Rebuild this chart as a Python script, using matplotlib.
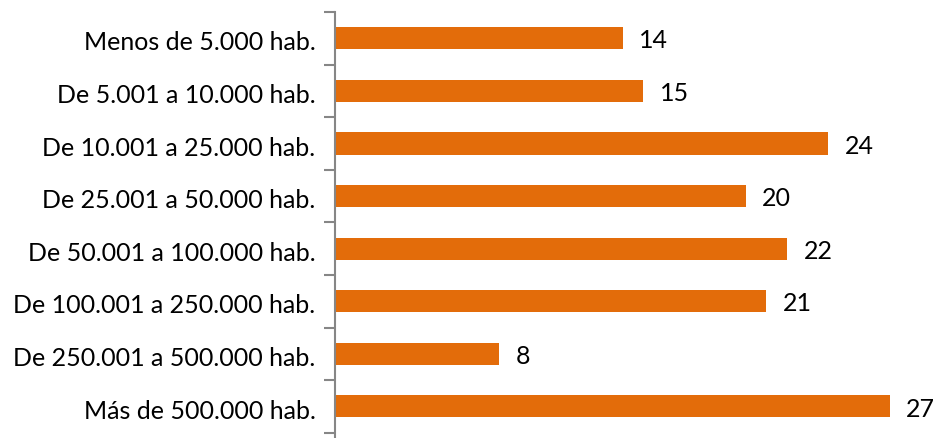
import matplotlib.pyplot as plt
import numpy as np

plt.rcParams['font.family'] = ['Lato', 'DejaVu Sans']

categorias = ["Menos de 5.000 hab.", "De 5.001 a 10.000 hab.", "De 10.001 a 25.000 hab.",
              "De 25.001 a 50.000 hab.", "De 50.001 a 100.000 hab.", "De 100.001 a 250.000 hab.",
              "De 250.001 a 500.000 hab.", "Más de 500.000 hab."]
valores = [14, 15, 24, 20, 22, 21, 8, 27]

naranja = '#E36C0A'
gris = '#868686'

fig = plt.figure(figsize=(9.37, 4.38), dpi=100)
ax = fig.add_axes([0.3575, 0.0, 0.6425, 1 - 12 / 438])

y = np.arange(len(categorias))
ax.barh(y, valores, height=0.42, color=naranja)

for yi, v in zip(y, valores):
    ax.text(v + 0.8, yi + 0.05, str(v), va='center', ha='left', fontsize=18, color='black')

ax.set_xlim(0, 29.3)
ax.set_ylim(7.6, -0.5)

ax.set_yticks(y + 0.05)
ax.set_yticklabels(categorias, fontsize=18)
ax.tick_params(axis='y', which='major', length=0, pad=14)
ax.set_yticks(np.arange(-0.5, len(categorias), 1), minor=True)
ax.tick_params(axis='y', which='minor', length=8, width=1.5, color=gris, direction='out')
ax.set_xticks([])

for s in ['top', 'right', 'bottom']:
    ax.spines[s].set_visible(False)
ax.spines['left'].set_color(gris)
ax.spines['left'].set_linewidth(1.5)

fig.savefig('out.png', dpi=100)
